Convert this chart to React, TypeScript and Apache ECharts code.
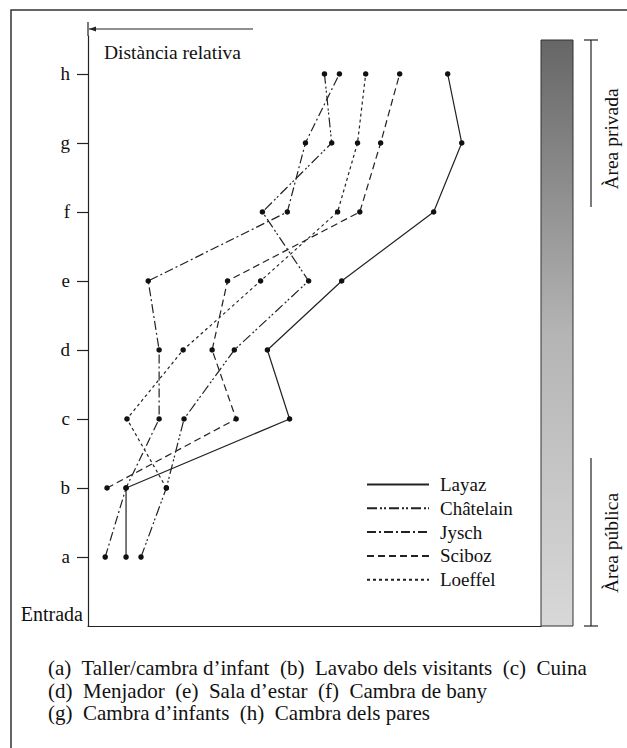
import React, { useEffect, useRef } from "react";
import * as echarts from "echarts";

// Rooms (y levels), bottom to top
const rooms = ["a", "b", "c", "d", "e", "f", "g", "h"];
// Relative distance (0-100 across plot width)
const layaz = [8.4, 8.4, 44.5, 39.6, 56.0, 76.3, 82.5, 79.4];
const chatelain = [11.7, 17.3, 21.2, 32.3, 48.7, 38.5, 53.8, 52.2];
const jysch = [3.8, 8.4, 15.7, 15.7, 13.3, 44.0, 48.0, 55.5];
const sciboz: (number | null)[] = [null, 4.2, 32.7, 27.4, 30.8, 60.0, 64.6, 68.8];
const loeffel: (number | null)[] = [null, 17.3, 8.6, 21.0, 38.1, 55.1, 59.5, 61.3];

const seriesNames = ["Layaz", "Châtelain", "Jysch", "Sciboz", "Loeffel"];
const seriesValues = [layaz, chatelain, jysch, sciboz, loeffel];
const dashes: (string | number[])[] = [
  "solid",
  [10, 3, 2, 2, 2, 3],
  [9, 3, 2, 3],
  [7, 4],
  [3, 3],
];

const captionLines = [
  "(a)  Taller/cambra d’infant  (b)  Lavabo dels visitants  (c)  Cuina",
  "(d)  Menjador  (e)  Sala d’estar  (f)  Cambra de bany",
  "(g)  Cambra d’infants  (h)  Cambra dels pares",
];

const FONT = "'Liberation Serif', 'DejaVu Serif', serif";

export default function App() {
  const ref = useRef<HTMLDivElement>(null);
  useEffect(() => {
    if (!ref.current) return;
    const chart = echarts.init(ref.current, undefined, { renderer: "svg" });
    const series = seriesValues.map((vals, si) => ({
      name: seriesNames[si],
      type: "line",
      data: vals
        .map((v, i) => (v == null ? null : [v, i + 1]))
        .filter((d) => d !== null),
      symbol: "circle",
      symbolSize: 5.5,
      itemStyle: { color: "#111" },
      lineStyle: { color: "#222", width: 1.2, type: dashes[si] },
      emphasis: { disabled: true },
    }));
    chart.setOption({
      animation: false,
      backgroundColor: "#fff",
      grid: { left: 88, right: 86, top: 36, bottom: 122 },
      xAxis: {
        type: "value",
        min: 0,
        max: 100,
        axisLine: { show: true, lineStyle: { color: "#222", width: 1.2 } },
        axisTick: { show: false },
        axisLabel: { show: false },
        splitLine: { show: false },
      },
      yAxis: {
        type: "value",
        min: 0,
        max: 8.55,
        interval: 1,
        axisLine: { show: true, lineStyle: { color: "#222", width: 1.2 } },
        axisTick: {
          show: true,
          length: 11,
          customValues: [1, 2, 3, 4, 5, 6, 7, 8],
          lineStyle: { color: "#222", width: 1.2 },
        },
        axisLabel: {
          show: true,
          margin: 18,
          customValues: [1, 2, 3, 4, 5, 6, 7, 8],
          formatter: (v: number) => rooms[Math.round(v) - 1] ?? "",
          fontFamily: FONT,
          fontSize: 19,
          color: "#111",
        },
        splitLine: { show: false },
      },
      legend: {
        orient: "vertical",
        left: 361,
        top: 470,
        itemWidth: 62,
        itemHeight: 12,
        itemGap: 4.8,
        itemStyle: { opacity: 0 },
        textStyle: { fontFamily: FONT, fontSize: 19, color: "#111", padding: [0, 0, 0, 6] },
        data: seriesNames,
        selectedMode: false,
      },
      series,
      graphic: [
        // outer frame
        {
          type: "rect",
          shape: { x: 11, y: 10, width: 640, height: 760 },
          style: { fill: "none", stroke: "#333", lineWidth: 1.5 },
          silent: true,
        },
        // relative distance arrow
        {
          type: "line",
          shape: { x1: 89, y1: 29, x2: 253, y2: 29 },
          style: { stroke: "#222", lineWidth: 1.2 },
        },
        {
          type: "line",
          shape: { x1: 88, y1: 22, x2: 88, y2: 36 },
          style: { stroke: "#222", lineWidth: 1.2 },
        },
        {
          type: "polygon",
          shape: { points: [[89, 29], [96, 26.5], [96, 31.5]] },
          style: { fill: "#222" },
        },
        {
          type: "text",
          x: 104,
          y: 52,
          style: {
            text: "Distància relativa",
            fontFamily: FONT,
            fontSize: 19.5,
            fill: "#111",
            verticalAlign: "middle",
          },
        },
        {
          type: "text",
          x: 83,
          y: 614,
          style: {
            text: "Entrada",
            fontFamily: FONT,
            fontSize: 20,
            fill: "#111",
            align: "right",
            verticalAlign: "middle",
          },
        },
        // shaded bar
        {
          type: "rect",
          shape: { x: 541, y: 40, width: 32, height: 586 },
          style: {
            fill: new echarts.graphic.LinearGradient(0, 0, 0, 1, [
              { offset: 0, color: "#666" },
              { offset: 0.5, color: "#b4b4b4" },
              { offset: 1, color: "#d8d8d8" },
            ]),
            stroke: "#333",
            lineWidth: 1,
          },
        },
        // private area bracket
        {
          type: "line",
          shape: { x1: 591, y1: 40, x2: 591, y2: 207 },
          style: { stroke: "#222", lineWidth: 1.2 },
        },
        {
          type: "line",
          shape: { x1: 584, y1: 40, x2: 598, y2: 40 },
          style: { stroke: "#222", lineWidth: 1.2 },
        },
        {
          type: "text",
          x: 611,
          y: 139,
          rotation: Math.PI / 2,
          style: {
            text: "Àrea privada",
            fontFamily: FONT,
            fontSize: 19.5,
            fill: "#111",
            align: "center",
            verticalAlign: "middle",
          },
        },
        // public area bracket
        {
          type: "line",
          shape: { x1: 591, y1: 458, x2: 591, y2: 626 },
          style: { stroke: "#222", lineWidth: 1.2 },
        },
        {
          type: "line",
          shape: { x1: 584, y1: 626, x2: 598, y2: 626 },
          style: { stroke: "#222", lineWidth: 1.2 },
        },
        {
          type: "text",
          x: 611,
          y: 543,
          rotation: Math.PI / 2,
          style: {
            text: "Àrea pública",
            fontFamily: FONT,
            fontSize: 19.5,
            fill: "#111",
            align: "center",
            verticalAlign: "middle",
          },
        },
        // caption
        ...captionLines.map((t, i) => ({
          type: "text",
          x: 48,
          y: 668 + i * 22.5,
          style: {
            text: t,
            fontFamily: FONT,
            fontSize: 21,
            fill: "#111",
            verticalAlign: "middle",
          },
        })),
      ],
    });
    return () => chart.dispose();
  }, []);
  return (
    <div
      ref={ref}
      style={{ position: "fixed", left: 0, top: 0, width: 627, height: 748 }}
    />
  );
}
